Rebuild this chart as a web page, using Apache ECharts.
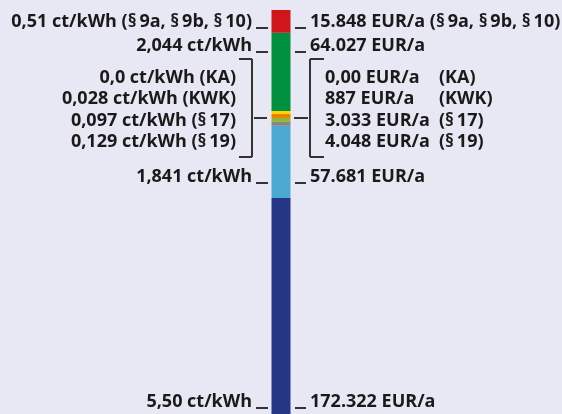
<!DOCTYPE html>
<html><head><meta charset="utf-8">
<script src="https://cdn.jsdelivr.net/npm/echarts@6/dist/echarts.min.js"></script>
<style>html,body{margin:0;padding:0;background:#e8e8f4}#c{width:562px;height:414px}</style>
</head><body><div id="c"></div>
<script>
// Single stacked bar, segments listed bottom to top
const category = ['Strompreis'];
const segmentNames = ['Energie', 'Netz', '§ 19', '§ 17', 'KWK', 'KA', 'EEG', '§ 9a, § 9b, § 10'];
// segment heights as drawn (ct/kWh scale)
const segmentValues = [5.50, 1.84, 0.10, 0.10, 0.10, 0.08, 1.99, 0.58];
const segmentColors = ['#263687', '#4ba9d2', '#878787', '#8cb832', '#f07d00', '#ffd500', '#00913f', '#d0161a'];
const ctLabels = ['5,50 ct/kWh', '1,841 ct/kWh', '0,129 ct/kWh (§\u200919)', '0,097 ct/kWh (§\u200917)',
  '0,028 ct/kWh (KWK)', '0,0 ct/kWh (KA)', '2,044 ct/kWh', '0,51 ct/kWh (§\u20099a, §\u20099b, §\u200910)'];
const eurLabels = ['172.322 EUR/a', '57.681 EUR/a', '4.048 EUR/a', '3.033 EUR/a',
  '887 EUR/a', '0,00 EUR/a', '64.027 EUR/a', '15.848 EUR/a (§\u20099a, §\u20099b, §\u200910)'];
const eurNotes = ['', '', '(§\u200919)', '(§\u200917)', '(KWK)', '(KA)', '', ''];

const total = segmentValues.reduce((a, b) => a + b, 0);
const bases = [];
segmentValues.reduce((acc, v, i) => { bases[i] = acc; return acc + v; }, 0);

// annotation layout (style only)
const annotations = [
  { seg: 7, ref: 'bottom', dy: -5 },
  { seg: 6, ref: 'top', dy: 19 },
  { segs: [5, 4, 3, 2], bracket: true },
  { seg: 1, ref: 'bottom', dy: -15 },
  { seg: 0, ref: 'bottom', dy: -6 }
];
const BAR_W = 19;
const FONT = 'bold 18px "Open Sans"';
const TXT = '#1a1a1a', LN = '#333333';

function renderAnn(params, api) {
  const a = annotations[params.dataIndex];
  const cx = api.coord([0, 0])[0];
  const bl = Math.round(cx - BAR_W / 2), br = Math.round(cx + BAR_W / 2);
  const kids = [];
  const line = (x1, y1, x2, y2) => kids.push({ type: 'line', shape: { x1, y1, x2, y2 }, style: { stroke: LN, lineWidth: 2 } });
  const text = (t, x, y, align) => kids.push({ type: 'text', x: 0, y: 0, style: { text: t, x, y, font: FONT, fill: TXT, align, verticalAlign: 'middle' } });
  if (!a.bracket) {
    const i = a.seg;
    const top = api.coord([0, bases[i] + segmentValues[i]])[1];
    const bot = api.coord([0, bases[i]])[1];
    const y = Math.round((a.ref === 'top' ? top : bot) + a.dy);
    line(bl - 16, y, bl - 4, y);
    line(br + 4, y, br + 15, y);
    text(ctLabels[i], bl - 20, y - 6, 'right');
    text(eurLabels[i], br + 19, y - 6, 'left');
  } else {
    const hi = a.segs[0], lo = a.segs[a.segs.length - 1];
    const top = api.coord([0, bases[hi] + segmentValues[hi]])[1];
    const bot = api.coord([0, bases[lo]])[1];
    const y = Math.round((top + bot) / 2);
    // left bracket
    line(bl - 18, y, bl - 5, y);
    line(bl - 20, y - 59, bl - 20, y + 39);
    line(bl - 33, y - 59, bl - 20, y - 59);
    line(bl - 33, y + 39, bl - 20, y + 39);
    // right bracket
    line(br + 3, y, br + 17, y);
    line(br + 19, y - 59, br + 19, y + 39);
    line(br + 19, y - 59, br + 33, y - 59);
    line(br + 19, y + 39, br + 33, y + 39);
    const offs = [-40, -19, 3, 24];
    a.segs.forEach((s, k) => {
      text(ctLabels[s], bl - 36, y + offs[k], 'right');
      text(eurLabels[s], br + 34, y + offs[k], 'left');
      text(eurNotes[s], br + 148, y + offs[k], 'left');
    });
  }
  return { type: 'group', children: kids };
}

const chart = echarts.init(document.getElementById('c'));
chart.setOption({
  backgroundColor: '#e8e8f4',
  animation: false,
  grid: { left: 0, right: 0, top: 10, bottom: 0 },
  xAxis: { type: 'category', data: category, show: false },
  yAxis: { type: 'value', min: 0, max: total, show: false },
  series: segmentValues.map((v, i) => ({
    name: segmentNames[i], type: 'bar', stack: 'preis', barWidth: BAR_W,
    data: [v], itemStyle: { color: segmentColors[i] }, silent: true
  })).concat([{
    type: 'custom', renderItem: renderAnn, clip: false, silent: true,
    data: annotations.map(() => [0, 0])
  }])
});
</script></body></html>
